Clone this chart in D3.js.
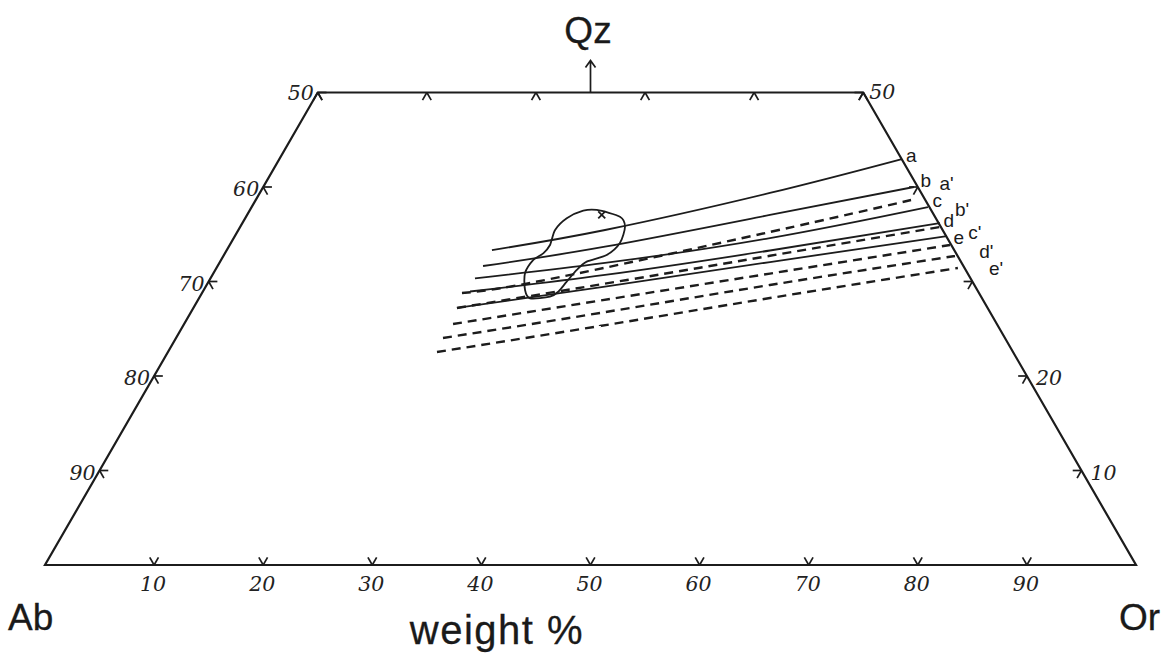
<!DOCTYPE html>
<html>
<head>
<meta charset="utf-8">
<script src="https://cdn.jsdelivr.net/npm/d3@7"></script>
<style>
  html, body { margin: 0; padding: 0; background: #fff; }
  svg { display: block; }
  .tick-label { font-family: "DejaVu Serif", serif; font-style: italic; font-size: 20.5px; fill: #222; }
  .corner { font-family: "Liberation Sans", Arial, sans-serif; fill: #1a1a1a; stroke: #1a1a1a; stroke-width: 0.3px; }
  .curve-label { font-family: "Liberation Sans", Arial, sans-serif; font-size: 19px; fill: #1a1a1a; }
</style>
</head>
<body>
<svg id="chart" width="1165" height="653"></svg>
<script>
// Ternary Ab–Or–Qz diagram (weight %), truncated at Qz = 50.
// Every point is [Or, Qz]; Ab = 100 - Or - Qz.

// Solid curves a–e
const curveA = [[24.30, 33.33], [33.61, 35.45], [46.76, 39.37], [57.07, 42.96]];
const curveB = [[24.33, 31.64], [34.49, 33.68], [47.93, 37.04], [59.65, 40.00]];
const curveC = [[24.24, 30.34], [35.35, 31.96], [49.15, 34.60], [61.99, 37.88]];
const curveD = [[24.49, 28.94], [35.98, 30.69], [49.81, 33.28], [63.93, 36.19]];
const curveE = [[24.16, 27.20], [36.60, 29.45], [50.42, 32.06], [65.27, 34.81]];

// Dashed curves a'–e'
const curveA2 = [[23.83, 28.78], [31.16, 30.26], [48.83, 35.24], [60.07, 38.62]];
const curveB2 = [[24.16, 27.20], [38.27, 30.16], [50.09, 32.72], [64.14, 35.77]];
const curveC2 = [[24.65, 25.50], [36.88, 27.98], [51.03, 30.84], [66.02, 33.86]];
const curveD2 = [[24.47, 24.02], [37.53, 26.67], [51.63, 29.63], [67.06, 32.70]];
const curveE2 = [[24.66, 22.54], [38.22, 25.29], [52.32, 28.25], [67.96, 31.43]];

const solidNames = ["a", "b", "c", "d", "e"];
const dashedNames = ["a'", "b'", "c'", "d'", "e'"];

// Outline of the composition field and its marked point
const fieldOutline = [
  [31.79, 37.57], [34.27, 36.86], [35.26, 35.80], [35.66, 34.07], [35.08, 32.80],
  [33.60, 32.10], [33.13, 31.22], [32.83, 29.98], [32.59, 28.92], [32.09, 28.39],
  [30.34, 28.22], [29.45, 29.10], [28.56, 30.87], [28.62, 32.28], [29.18, 32.98],
  [29.36, 33.86], [29.03, 35.45], [29.48, 36.69], [30.59, 37.49]
];
const fieldPoint = [32.51, 37.04];

// Axis ticks and labels
const baseTicks = [10, 20, 30, 40, 50, 60, 70, 80, 90];      // Or along Ab–Or
const topTicks = [0, 10, 20, 30, 40, 50];                    // Or along Qz = 50
const leftTicks = [10, 20, 30, 40, 50];                      // Qz along Ab side
const leftLabels = ["90", "80", "70", "60", "50"];           // Ab % on that side
const rightTicks = [10, 20, 30, 40, 50];                     // Qz along Or side
const rightLabels = ["10", "20", "", "", "50"];

const svg = d3.select("#chart");
const ink = "#1c1c1c";

// Projection: horizontal uses Or + Qz/2, vertical uses Qz
const xs = d3.scaleLinear().domain([0, 100]).range([45, 1136]);
const ys = d3.scaleLinear().domain([0, 100]).range([565, -380]);
const px = (p) => xs(p[0] + p[1] / 2);
const py = (p) => ys(p[1]);

// Frame (trapezoid)
const frame = [[0, 0], [100, 0], [50, 50], [0, 50]];
svg.append("path")
  .attr("d", d3.line().x(px).y(py)(frame) + "Z")
  .attr("fill", "none").attr("stroke", ink).attr("stroke-width", 2.2)
  .attr("stroke-linejoin", "miter");

// Tick stubs drawn inward along the two other grid directions
const L = 0.8;
const stubs = [];
baseTicks.forEach(v => { const p = [v, 0]; stubs.push([p, [v, L]], [p, [v - L, L]]); });
topTicks.forEach(v => { const p = [v, 50]; stubs.push([p, [v, 50 - L]], [p, [v + L, 50 - L]]); });
leftTicks.forEach(q => { const p = [0, q]; stubs.push([p, [L, q]], [p, [L, q - L]]); });
rightTicks.forEach(q => { const p = [100 - q, q]; stubs.push([p, [100 - q - L, q]], [p, [100 - q, q - L]]); });
svg.append("g").selectAll("line").data(stubs).join("line")
  .attr("x1", d => px(d[0])).attr("y1", d => py(d[0]))
  .attr("x2", d => px(d[1])).attr("y2", d => py(d[1]))
  .attr("stroke", ink).attr("stroke-width", 1.7);

// Base labels
svg.append("g").selectAll("text").data(baseTicks).join("text")
  .attr("class", "tick-label")
  .attr("x", v => px([v, 0]) - 1).attr("y", py([0, 0]) + 26)
  .attr("text-anchor", "middle").text(v => v);

// Left side labels
svg.append("g").selectAll("text").data(leftTicks).join("text")
  .attr("class", "tick-label")
  .attr("x", q => px([0, q]) - 4).attr("y", q => py([0, q]) + (q === 50 ? 7 : 9))
  .attr("text-anchor", "end").text((q, i) => leftLabels[i]);

// Right side labels
svg.append("g").selectAll("text").data(rightTicks).join("text")
  .attr("class", "tick-label")
  .attr("x", q => px([100 - q, q]) + (q === 50 ? 6 : 9)).attr("y", q => py([100 - q, q]) + (q === 50 ? 6 : 9))
  .attr("text-anchor", "start").text((q, i) => rightLabels[i]);

// Arrow toward the Qz apex
const ax = px([25, 50]), ay = py([25, 50]);
svg.append("path")
  .attr("d", `M${ax},${ay} V${ay - 32} M${ax - 5},${ay - 25} L${ax},${ay - 32} L${ax + 5},${ay - 25}`)
  .attr("fill", "none").attr("stroke", ink).attr("stroke-width", 1.7);

// Vertex and axis titles
svg.append("text").attr("class", "corner").attr("x", 588).attr("y", 43)
  .attr("text-anchor", "middle").attr("font-size", 37).text("Qz");
svg.append("text").attr("class", "corner").attr("x", 8).attr("y", 630)
  .attr("font-size", 37).text("Ab");
svg.append("text").attr("class", "corner").attr("x", 1160).attr("y", 630)
  .attr("text-anchor", "end").attr("font-size", 37).text("Or");
svg.append("text").attr("class", "corner").attr("x", 497).attr("y", 644)
  .attr("text-anchor", "middle").attr("font-size", 40).attr("letter-spacing", 1.5).text("weight %");

// Curves
const curveGen = d3.line().x(px).y(py).curve(d3.curveNatural);
const solids = [curveA, curveB, curveC, curveD, curveE];
const dashed = [curveA2, curveB2, curveC2, curveD2, curveE2];

svg.append("g").selectAll("path").data(dashed).join("path")
  .attr("d", curveGen)
  .attr("fill", "none").attr("stroke", ink).attr("stroke-width", 2.4)
  .attr("stroke-dasharray", "9,6");

svg.append("g").selectAll("path").data(solids).join("path")
  .attr("d", curveGen)
  .attr("fill", "none").attr("stroke", ink).attr("stroke-width", 1.8);

// Curve labels beside the Or-side edge
const edgeX = (y) => { const q = ys.invert(y); return px([100 - q, q]); };
const solidDy = [-4, -7, -7, -3, 1];
const dashedDy = [-17, -17, -13, -4, 1];
svg.append("g").selectAll("text").data(solids).join("text")
  .attr("class", "curve-label")
  .attr("x", (d, i) => edgeX(py(d[d.length - 1]) + solidDy[i]) + 12)
  .attr("y", (d, i) => py(d[d.length - 1]) + solidDy[i])
  .attr("text-anchor", "middle").attr("dominant-baseline", "central")
  .text((d, i) => solidNames[i]);
svg.append("g").selectAll("text").data(dashed).join("text")
  .attr("class", "curve-label")
  .attr("x", (d, i) => edgeX(py(d[d.length - 1]) + dashedDy[i]) + 31)
  .attr("y", (d, i) => py(d[d.length - 1]) + dashedDy[i])
  .attr("text-anchor", "middle").attr("dominant-baseline", "central")
  .text((d, i) => dashedNames[i]);

// Composition field
svg.append("path")
  .attr("d", d3.line().x(px).y(py).curve(d3.curveCardinalClosed.tension(0.2))(fieldOutline))
  .attr("fill", "none").attr("stroke", ink).attr("stroke-width", 1.8);

// Marked point inside the field
const fx = px(fieldPoint), fy = py(fieldPoint);
svg.append("path")
  .attr("d", `M${fx - 3.5},${fy - 3.5} L${fx + 3.5},${fy + 3.5} M${fx + 3.5},${fy - 3.5} L${fx - 3.5},${fy + 3.5}`)
  .attr("stroke", ink).attr("stroke-width", 1.8);
</script>
</body>
</html>
